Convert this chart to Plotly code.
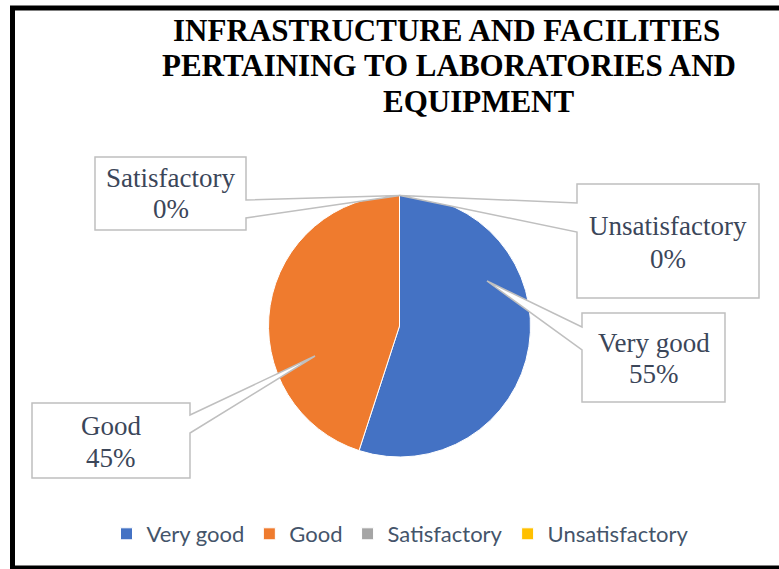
import plotly.graph_objects as go

# ---- data -------------------------------------------------------------
categories = ["Very good", "Good", "Satisfactory", "Unsatisfactory"]
percent = [55, 45, 0, 0]
slice_colors = ["#4472C4", "#EF7B2E", "#A5A5A5", "#FFC000"]
title_lines = [
    "INFRASTRUCTURE AND FACILITIES",
    "PERTAINING TO LABORATORIES AND",
    "EQUIPMENT",
]

# ---- canvas helpers ---------------------------------------------------
W, H = 779, 569


def px(x):
    return x / W


def py(y):
    return 1 - y / H


# pie placement (pixel centre / radius)
CX, CY, R = 399.5, 326, 131

fig = go.Figure()
fig.add_trace(
    go.Pie(
        labels=categories,
        values=percent,
        sort=False,
        direction="clockwise",
        rotation=0,
        textinfo="none",
        marker=dict(colors=slice_colors, line=dict(color="white", width=1)),
        domain=dict(x=[px(CX - R), px(CX + R)], y=[py(CY + R), py(CY - R)]),
        showlegend=True,
    )
)

shapes = []
annotations = []

# outer frame of the chart area
shapes.append(
    dict(
        type="rect", xref="paper", yref="paper",
        x0=px(12.5), x1=px(792), y0=py(568), y1=py(8),
        line=dict(color="black", width=5), fillcolor="rgba(0,0,0,0)",
        layer="above",
    )
)

# title, one line per annotation (positions given as text baselines)
TITLE_SIZE = 31
title_pos = [(446, 41), (448.5, 76), (479, 112)]
for line, (tx, base) in zip(title_lines, title_pos):
    annotations.append(
        dict(
            text=line, xref="paper", yref="paper", x=px(tx),
            y=py(base - 0.3375 * TITLE_SIZE),
            xanchor="center", yanchor="middle", showarrow=False, borderpad=0,
            font=dict(family="Liberation Serif", size=TITLE_SIZE,
                      color="black", weight="bold"),
        )
    )

# callout boxes: (box x0, y0, x1, y1), side of the pointer, pointer base
# positions along that side, pointer tip, baselines of the two text lines
callouts = {
    "Very good": dict(box=(582, 313, 725, 402), side="left", base=(327, 350),
                      tip=(487, 281), base_y=(352, 383)),
    "Good": dict(box=(32, 403, 190, 478), side="right", base=(415, 433),
                 tip=(315, 356), base_y=(435, 467)),
    "Satisfactory": dict(box=(95, 157, 246, 230), side="right",
                         base=(200, 218), tip=(400, 195.5),
                         base_y=(187, 218)),
    "Unsatisfactory": dict(box=(577, 184, 759, 298), side="left",
                           base=(203, 232), tip=(400, 195.5),
                           base_y=(235, 268)),
}


def callout_path(box, side, base, tip):
    x0, y0, x1, y1 = box
    a, b = base
    tx, ty = tip
    pts = [(x0, y0), (x1, y0)]
    if side == "right":
        pts += [(x1, a), (tx, ty), (x1, b)]
    pts += [(x1, y1), (x0, y1)]
    if side == "left":
        pts += [(x0, b), (tx, ty), (x0, a)]
    d = "M " + " L ".join(f"{px(x):.5f},{py(y):.5f}" for x, y in pts) + " Z"
    return d


LABEL_FONT = dict(family="Liberation Serif", size=27, color="#3B4659")
for cat, val in zip(categories, percent):
    c = callouts[cat]
    shapes.append(
        dict(
            type="path", xref="paper", yref="paper",
            path=callout_path(c["box"], c["side"], c["base"], c["tip"]),
            line=dict(color="#BFBFBF", width=1.5), fillcolor="white",
            layer="above",
        )
    )
    bx = (c["box"][0] + c["box"][2]) / 2
    for txt, base in zip([cat, f"{val}%"], c["base_y"]):
        annotations.append(
            dict(
                text=txt, xref="paper", yref="paper", x=px(bx),
                y=py(base - 0.3375 * LABEL_FONT["size"]),
                xanchor="center", yanchor="middle", showarrow=False,
                borderpad=0, font=LABEL_FONT,
            )
        )

fig.update_layout(
    width=W, height=H,
    margin=dict(l=0, r=0, t=0, b=0, pad=0),
    paper_bgcolor="white", plot_bgcolor="white",
    shapes=shapes, annotations=annotations,
    legend=dict(
        orientation="h", x=px(400.5), y=py(534), xanchor="center",
        yanchor="middle", font=dict(family="Lato", size=22, color="#44546A"),
        bgcolor="rgba(0,0,0,0)",
    ),
)

fig.write_html("out.html")
